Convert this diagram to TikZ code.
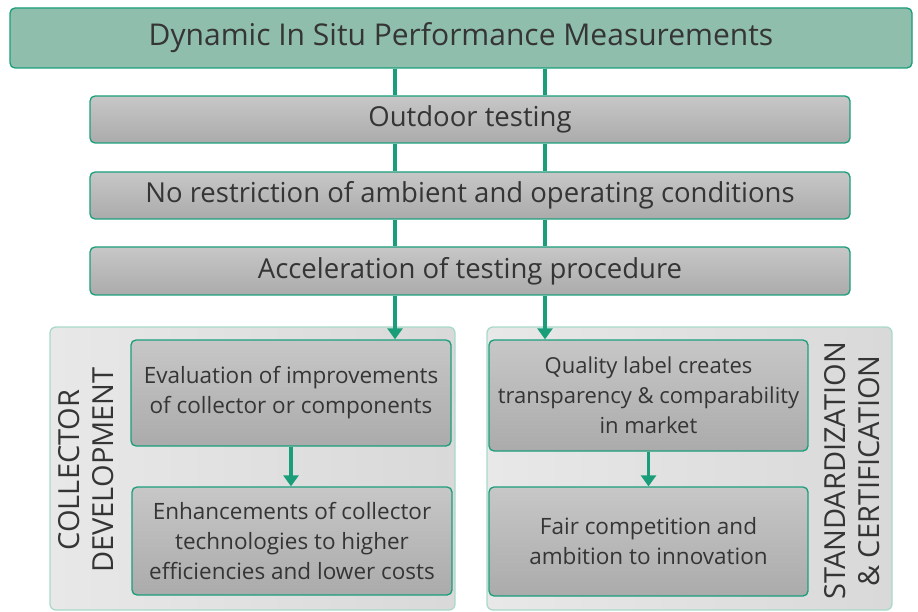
\documentclass[tikz,border=0pt]{standalone}
\usepackage{fontspec}
\setmainfont{Open Sans}
\usetikzlibrary{arrows.meta}
\definecolor{boxgreen}{HTML}{1A9E7A}
\definecolor{titlefill}{HTML}{8FBEAC}
\definecolor{panelline}{HTML}{A9D9C9}
\definecolor{txtgray}{HTML}{353535}
\tikzset{
  graybox/.style={draw=boxgreen, line width=1.3pt, rounded corners=5pt,
    top color=black!22, bottom color=black!33, text=txtgray, align=center},
  panel/.style={draw=panelline, line width=1.3pt, rounded corners=6pt,
    left color=black!9, right color=black!15},
  link/.style={boxgreen, line width=3.6pt},
  flow/.style={boxgreen, line width=3.6pt, -{Triangle[length=11pt,width=15pt]}}
}
\begin{document}
\begin{tikzpicture}[x=1pt,y=-1pt]
\useasboundingbox (0,0) rectangle (918,612);
\coordinate (xl) at (395,0);
\coordinate (xr) at (545,0);

\node[graybox, fill=titlefill, top color=titlefill, bottom color=titlefill, minimum width=902pt, minimum height=60pt, font=\fontsize{30}{34}\selectfont] (title) at (461,38) {Dynamic In Situ Performance Measurements};
\node[graybox, minimum width=760pt, minimum height=47pt, font=\fontsize{27.5}{30}\selectfont] (outdoor) at (470,119.5) {Outdoor testing};
\node[graybox, minimum width=760pt, minimum height=47pt, font=\fontsize{27.5}{30}\selectfont] (norestr) at (470,195.5) {No restriction of ambient and operating conditions};
\node[graybox, minimum width=760pt, minimum height=48pt, font=\fontsize{27.5}{30}\selectfont] (accel) at (470,271) {Acceleration of testing procedure};

\node[panel, minimum width=405pt, minimum height=283pt] (devpanel) at (252.5,468.5) {};
\node[panel, minimum width=405pt, minimum height=283pt] (certpanel) at (689.5,468.5) {};

\node[graybox, minimum width=320pt, minimum height=106pt, font=\fontsize{22.5}{30}\selectfont] (evalbox) at (291,393) {Evaluation of improvements\\of collector or components};
\node[graybox, minimum width=320pt, minimum height=108pt, font=\fontsize{22.5}{30}\selectfont] (enhbox) at (292,541) {Enhancements of collector\\technologies to higher\\efficiencies and lower costs};
\node[graybox, minimum width=319pt, minimum height=111pt, font=\fontsize{22}{30}\selectfont] (qualbox) at (648.5,395.5) {Quality label creates\\transparency \& comparability\\in market};
\node[graybox, minimum width=319pt, minimum height=109pt, font=\fontsize{22.5}{30}\selectfont] (fairbox) at (648.5,541.5) {Fair competition and\\ambition to innovation};

\node[rotate=90, text=txtgray, align=center, font=\fontsize{29}{34}\selectfont] (devlabel) at (86,470) {COLLECTOR\\DEVELOPMENT};
\node[rotate=90, text=txtgray, align=center, font=\fontsize{29}{34}\selectfont] (certlabel) at (852,471) {STANDARDIZATION\\\& CERTIFICATION};

\draw[link] (title.south -| xl) -- (outdoor.north -| xl);
\draw[link] (title.south -| xr) -- (outdoor.north -| xr);
\draw[link] (outdoor.south -| xl) -- (norestr.north -| xl);
\draw[link] (outdoor.south -| xr) -- (norestr.north -| xr);
\draw[link] (norestr.south -| xl) -- (accel.north -| xl);
\draw[link] (norestr.south -| xr) -- (accel.north -| xr);
\draw[flow] (accel.south -| xl) -- (evalbox.north -| xl);
\draw[flow] (accel.south -| xr) -- (qualbox.north -| xr);
\draw[flow] (evalbox.south) -- (evalbox.south |- enhbox.north);
\draw[flow] (qualbox.south) -- (fairbox.north);
\end{tikzpicture}
\end{document}
